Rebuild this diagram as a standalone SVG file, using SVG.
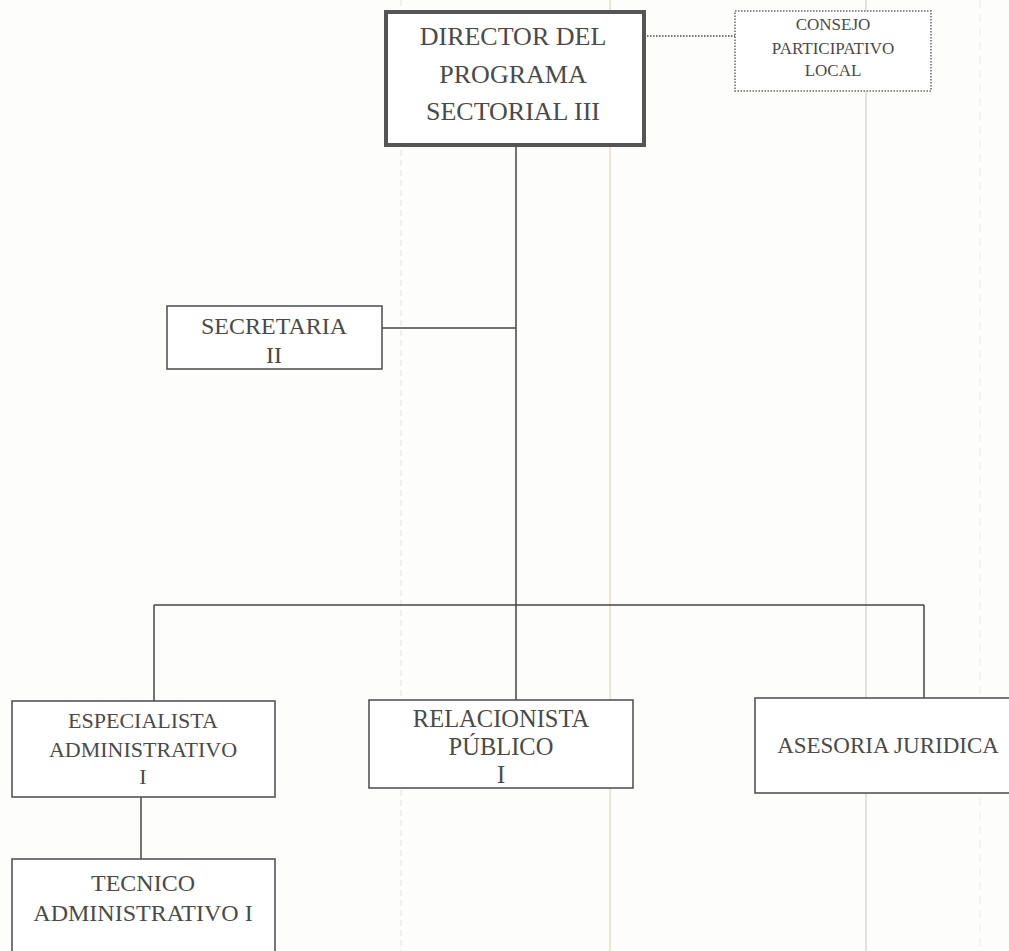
<svg xmlns="http://www.w3.org/2000/svg" width="1009" height="951" viewBox="0 0 1009 951">
<style>
.box{fill:#fff;stroke:#555;stroke-width:1.6}
.thick{fill:#fff;stroke:#555;stroke-width:4}
.dot{fill:#fff;stroke:#666;stroke-width:1.5;stroke-dasharray:1.5 1.5}
.ln{stroke:#444;stroke-width:1.5;fill:none}
.t{font-family:"Liberation Serif","DejaVu Serif",serif;fill:#4a4a4a;text-anchor:middle}
.scan{stroke-width:1;fill:none}
</style>
<rect width="1009" height="951" fill="#fdfdfb"/>
<g id="scan">
<line class="scan" x1="610" y1="0" x2="610" y2="951" stroke="#d8cfa8"/>
<line class="scan" x1="866" y1="0" x2="866" y2="951" stroke="#c8c8c8"/>
<line class="scan" x1="401" y1="0" x2="401" y2="951" stroke="#e2e2e2" stroke-dasharray="6 4"/>
<line class="scan" x1="980" y1="0" x2="980" y2="951" stroke="#eaeaea" stroke-dasharray="8 6"/>
</g>
<g id="connectors">
<line class="ln" x1="644" y1="36" x2="735" y2="36" stroke-dasharray="1.5 1.5"/>
<line class="ln" x1="516" y1="145" x2="516" y2="700"/>
<line class="ln" x1="382" y1="328" x2="516" y2="328"/>
<line class="ln" x1="154" y1="605" x2="924" y2="605"/>
<line class="ln" x1="154" y1="605" x2="154" y2="701"/>
<line class="ln" x1="924" y1="605" x2="924" y2="698"/>
<line class="ln" x1="141" y1="797" x2="141" y2="859"/>
</g>
<g id="director">
<rect class="thick" x="386" y="12" width="258" height="133"/>
<text class="t" font-size="26" x="513" y="45">DIRECTOR DEL</text>
<text class="t" font-size="26" x="513" y="83">PROGRAMA</text>
<text class="t" font-size="26" x="513" y="120">SECTORIAL III</text>
</g>
<g id="consejo">
<rect class="dot" x="735" y="11" width="196" height="80"/>
<text class="t" font-size="17" x="833" y="30">CONSEJO</text>
<text class="t" font-size="17" x="833" y="54">PARTICIPATIVO</text>
<text class="t" font-size="17" x="833" y="76">LOCAL</text>
</g>
<g id="secretaria">
<rect class="box" x="167" y="306" width="215" height="63"/>
<text class="t" font-size="24" x="274" y="334">SECRETARIA</text>
<text class="t" font-size="24" x="274" y="363">II</text>
</g>
<g id="especialista">
<rect class="box" x="12" y="701" width="263" height="96"/>
<text class="t" font-size="22" x="143" y="728">ESPECIALISTA</text>
<text class="t" font-size="22" x="143" y="757">ADMINISTRATIVO</text>
<text class="t" font-size="22" x="143" y="784">I</text>
</g>
<g id="relacionista">
<rect class="box" x="369" y="700" width="264" height="88"/>
<text class="t" font-size="24.5" x="501" y="727">RELACIONISTA</text>
<text class="t" font-size="24.5" x="501" y="755">PÚBLICO</text>
<text class="t" font-size="24.5" x="501" y="783">I</text>
</g>
<g id="asesoria">
<rect class="box" x="755" y="698" width="260" height="95"/>
<text class="t" font-size="23" x="888" y="753">ASESORIA JURIDICA</text>
</g>
<g id="tecnico">
<rect class="box" x="12" y="859" width="263" height="100"/>
<text class="t" font-size="24" x="143" y="891">TECNICO</text>
<text class="t" font-size="24" x="143" y="921">ADMINISTRATIVO I</text>
</g>
</svg>
